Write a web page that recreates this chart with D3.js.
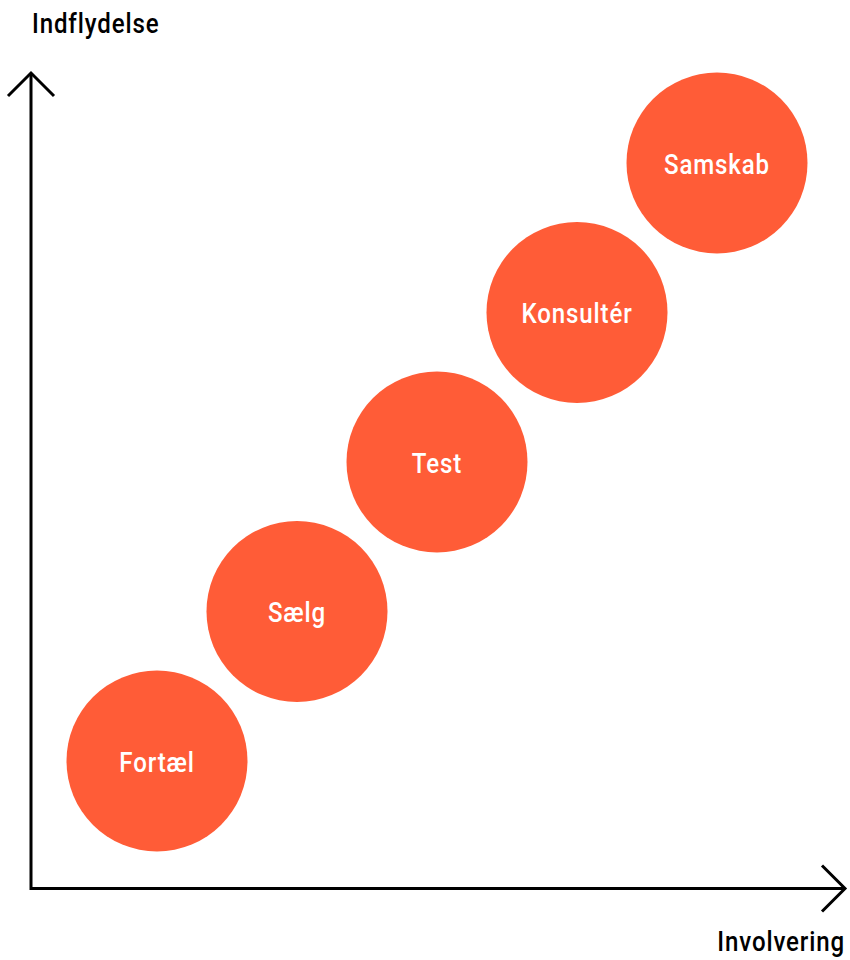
<!DOCTYPE html>
<html>
<head>
<meta charset="utf-8">
<script src="https://cdn.jsdelivr.net/npm/d3@7"></script>
<style>
  html, body { margin: 0; padding: 0; background: #fff; }
  svg { display: block; }
  text { font-family: "Roboto", "Liberation Sans", sans-serif; font-weight: 500; }
</style>
</head>
<body>
<svg id="chart" width="850" height="960"></svg>
<script>
// Data
const categories = ["Fortæl", "Sælg", "Test", "Konsultér", "Samskab"];
const involvering = [1, 2, 3, 4, 5];
const indflydelse = [1, 2, 3, 4, 5];
const axisLabels = ["Indflydelse", "Involvering"];

const svg = d3.select("#chart");

const x = d3.scaleLinear().domain([1, 5]).range([157, 717]);
const y = d3.scaleLinear().domain([1, 5]).range([761, 163]);
const r = 90.5;
const originX = 31, originY = 888.5, topY = 73, rightX = 845;
const fill = "#FF5C37";
const squeeze = 0.86;

// Axes
const g = svg.append("g").attr("fill", "none").attr("stroke", "#000")
  .attr("stroke-width", 3).attr("stroke-linecap", "butt");
g.append("path").attr("d", `M${originX},${topY} V${originY} H${rightX}`)
  .attr("stroke-linejoin", "miter");
g.append("path").attr("d", `M${originX - 23},${topY + 23} L${originX},${topY} L${originX + 23},${topY + 23}`);
g.append("path").attr("d", `M${rightX - 23},${originY - 23} L${rightX},${originY} L${rightX - 23},${originY + 23}`);

// Axis titles
svg.append("g").attr("transform", `translate(32,32.5) scale(${squeeze},1)`)
  .append("text")
  .attr("font-size", 28).attr("letter-spacing", 1).attr("fill", "#000")
  .text(axisLabels[0]);
svg.append("g").attr("transform", `translate(845,951) scale(${squeeze},1)`)
  .append("text")
  .attr("text-anchor", "end")
  .attr("font-size", 28).attr("letter-spacing", 1).attr("fill", "#000")
  .text(axisLabels[1]);

// Bubbles
const data = categories.map((c, i) => ({ c, xv: involvering[i], yv: indflydelse[i] }));
const nodes = svg.append("g").selectAll("g").data(data).join("g")
  .attr("transform", d => `translate(${x(d.xv)},${y(d.yv)})`);
nodes.append("circle").attr("r", r).attr("fill", fill);
nodes.append("g").attr("transform", `translate(0,10.5) scale(${squeeze},1)`)
  .append("text").attr("text-anchor", "middle")
  .attr("font-size", 28).attr("letter-spacing", 1).attr("fill", "#fff")
  .text(d => d.c);
</script>
</body>
</html>
